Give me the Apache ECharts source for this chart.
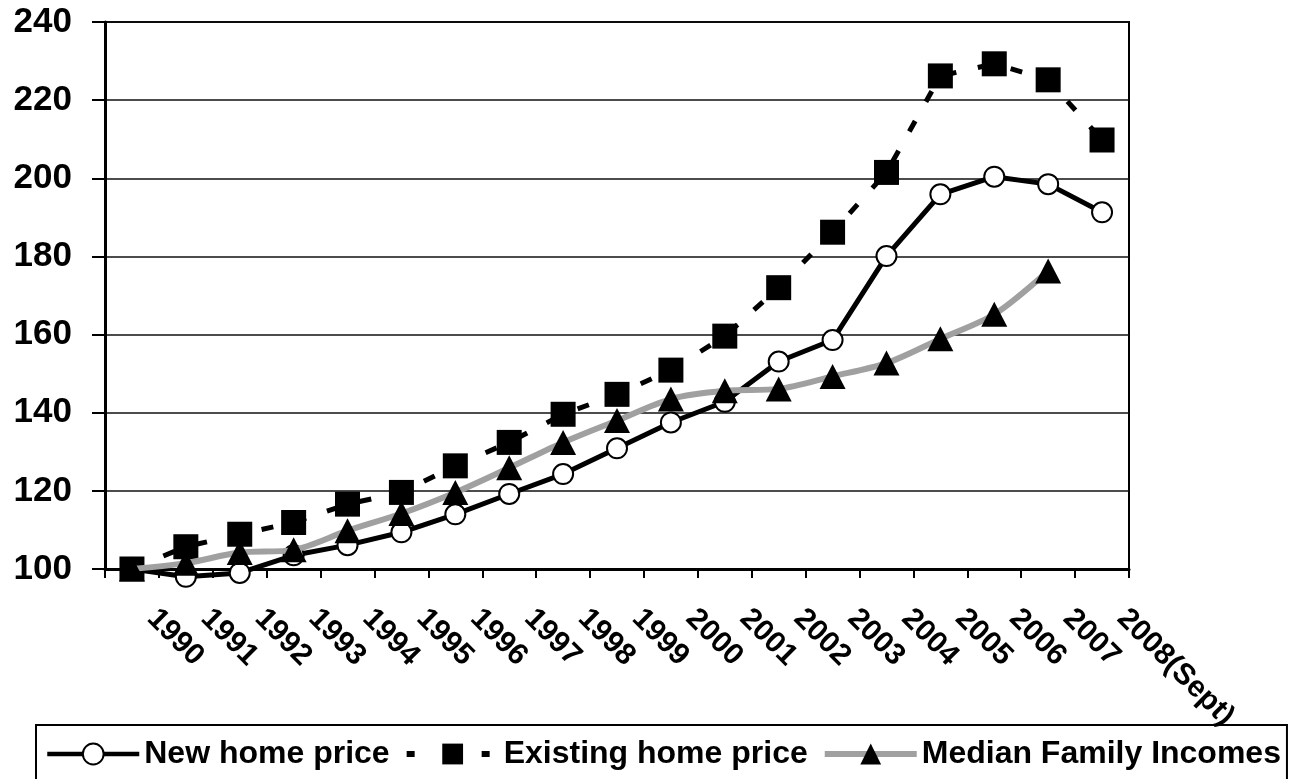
<!DOCTYPE html>
<html>
<head>
<meta charset="utf-8">
<script src="https://cdn.jsdelivr.net/npm/echarts@6/dist/echarts.min.js"></script>
<style>
  html, body { margin: 0; padding: 0; background: #fff; }
  #chart { width: 1298px; height: 779px; }
</style>
</head>
<body>
<div id="chart"></div>
<script>
// categories and values
const years = ["1990", "1991", "1992", "1993", "1994", "1995", "1996", "1997", "1998", "1999",
  "2000", "2001", "2002", "2003", "2004", "2005", "2006", "2007", "2008(Sept)"];
const newHome = [100, 98, 99, 103.5, 106.1, 109.4, 114.0, 119.2, 124.3, 130.9,
  137.5, 142.8, 153.1, 158.6, 180.1, 195.9, 200.4, 198.5, 191.3];
const existingHome = [100, 105.7, 108.9, 111.9, 116.6, 119.6, 126.4, 132.4, 139.6, 144.7,
  150.9, 159.6, 172.0, 186.2, 201.5, 226.2, 229.3, 225.2, 209.8];
const medianIncome = [100, 101.5, 104.2, 104.9, 109.8, 114.2, 119.6, 125.9, 132.4, 138.0,
  143.5, 145.6, 146.1, 149.3, 152.7, 158.9, 165.2, 176.3, null];
const yTicks = { min: 100, max: 240, step: 20 };

const font = "'Liberation Sans', Arial, sans-serif";
const mychart = echarts.init(document.getElementById("chart"));

let option = {
  backgroundColor: "#fff",
  animation: false,
  grid: {
    left: 105,
    right: 169,
    top: 22,
    bottom: 210,
    show: true,
    borderColor: "#000",
    borderWidth: 2,
  },
  legend: {
    left: 36,
    top: 725,
    itemWidth: 92,
    itemHeight: 26,
    itemGap: 14,
    padding: [13, 6, 14, 9],
    borderColor: "#000",
    borderWidth: 2,
    textStyle: {
      fontFamily: font,
      fontWeight: "bold",
      fontSize: 32,
      color: "#000",
    },
    data: [
      { name: "New home price", lineStyle: { width: 4.5, color: "#000" } },
      { name: "Existing home price", lineStyle: { width: 6, color: "#000", type: [8, 67], dashOffset: 75 } },
      { name: "Median Family Incomes", lineStyle: { width: 6, color: "#a0a0a0" } },
    ],
  },
  xAxis: {
    type: "category",
    boundaryGap: true,
    data: years,
    axisLine: { lineStyle: { color: "#000", width: 3 } },
    axisTick: { show: true, interval: 0, length: 9, lineStyle: { color: "#000", width: 2 } },
    axisLabel: {
      interval: 0,
      rotate: -45,
      margin: 25,
      padding: [0, 0, 0, 28],
      fontFamily: font,
      fontWeight: "bold",
      fontSize: 30,
      color: "#000",
    },
  },
  yAxis: {
    type: "value",
    min: yTicks.min,
    max: yTicks.max,
    interval: yTicks.step,
    axisLine: { show: true, lineStyle: { color: "#000", width: 3 } },
    axisTick: { show: true, length: 13, lineStyle: { color: "#000", width: 2 } },
    splitLine: { lineStyle: { color: "#111", width: 1.5 } },
    axisLabel: {
      margin: 33,
      fontFamily: font,
      fontWeight: "bold",
      fontSize: 35,
      color: "#000",
    },
  },
  series: [
    {
      name: "New home price",
      type: "line",
      data: newHome,
      clip: false,
      symbol: "circle",
      symbolSize: 20,
      lineStyle: { color: "#000", width: 5 },
      itemStyle: { color: "#fff", borderColor: "#000", borderWidth: 2 },
      z: 2,
    },
    {
      name: "Existing home price",
      type: "line",
      data: existingHome,
      clip: false,
      symbol: "rect",
      symbolSize: 25,
      lineStyle: { color: "#000", width: 5, type: [12, 22] },
      itemStyle: { color: "#000" },
      z: 3,
    },
    {
      name: "Median Family Incomes",
      type: "line",
      data: medianIncome,
      clip: false,
      smooth: 0.3,
      symbol: "triangle",
      symbolSize: [26, 25],
      lineStyle: { color: "#a0a0a0", width: 6 },
      itemStyle: { color: "#000" },
      z: 4,
    },
  ],
};
mychart.setOption(option);
</script>
</body>
</html>
